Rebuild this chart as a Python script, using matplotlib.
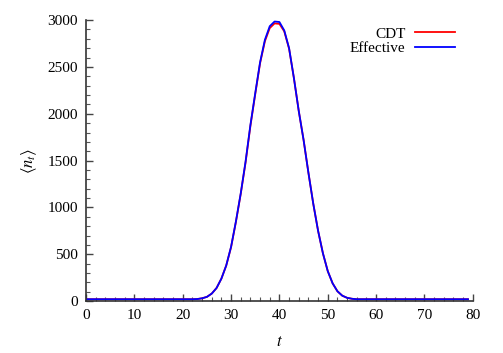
import numpy as np
import matplotlib
matplotlib.use("Agg")
import matplotlib.pyplot as plt
from matplotlib.ticker import MultipleLocator

plt.rcParams['font.family'] = ['Liberation Serif', 'DejaVu Serif']
plt.rcParams['mathtext.fontset'] = 'stix'

# time steps 0..79
t = np.arange(0, 80)

# effective model
effective = [20] * 23 + [
    22, 30, 45, 80, 140, 240, 380, 580, 850, 1150,    # 23-32
    1490, 1880, 2220, 2550, 2790, 2935, 2985, 2980,   # 33-40
    2890, 2700, 2380, 2030, 1720, 1370, 1040, 750,    # 41-48
    510, 320, 190, 105, 58, 35, 25,                   # 49-55
] + [20] * 24

# CDT data, nearly the same, peak a bit lower
cdt = [20] * 23 + [
    22, 30, 45, 80, 140, 240, 380, 575, 845, 1145,
    1480, 1870, 2210, 2540, 2775, 2915, 2965, 2960,
    2880, 2695, 2380, 2030, 1720, 1370, 1040, 750,
    510, 320, 190, 105, 58, 35, 25,
] + [20] * 24

fig = plt.figure(figsize=(5.03, 3.53), dpi=100)
ax = fig.add_axes([0.171, 0.147, 0.769, 0.796])

ax.plot(t, cdt, color='red', lw=1.3, label='CDT')
ax.plot(t, effective, color='blue', lw=1.3, label='Effective')

ax.set_xlim(0, 80)
ax.set_ylim(0, 3000)
ax.xaxis.set_major_locator(MultipleLocator(10))
ax.xaxis.set_minor_locator(MultipleLocator(2))
ax.yaxis.set_major_locator(MultipleLocator(500))
ax.yaxis.set_minor_locator(MultipleLocator(100))

for s in ['top', 'right']:
    ax.spines[s].set_visible(False)
for s in ['left', 'bottom']:
    ax.spines[s].set_linewidth(1.2)
    ax.spines[s].set_color('#333333')

ax.tick_params(which='major', direction='in', length=5, width=1, labelsize=11, pad=6, color='#444444')
ax.tick_params(which='minor', direction='in', length=3, width=0.8, color='#555555')

ax.set_xlabel(r'$t$', fontsize=12, labelpad=8)
ax.set_ylabel(r'$\langle n_t \rangle$', fontsize=12, labelpad=6)

leg = ax.legend(loc='upper right', bbox_to_anchor=(0.99, 1.025), frameon=False,
                markerfirst=False, fontsize=11, handlelength=2.6,
                handletextpad=0.65, labelspacing=0.05)

fig.savefig('out.png', dpi=100)
